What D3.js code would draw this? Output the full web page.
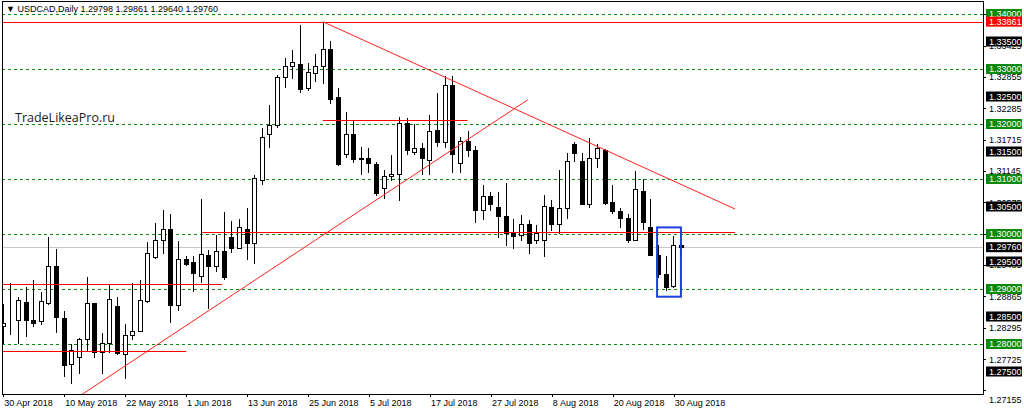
<!DOCTYPE html>
<html lang="en">
<head>
<meta charset="UTF-8">
<title>USDCAD Daily</title>
<script src="https://d3js.org/d3.v7.min.js"></script>
<style>
  body { margin: 0; background: #fff; }
  svg { display: block; font-family: "Liberation Sans", Arial, sans-serif; }
  .axis text { font-size: 9px; fill: #000; }
  .axis line { stroke: #000; shape-rendering: crispEdges; }
  .axis path { display: none; }
  .watermark { font-family: "Open Sans", sans-serif; font-size: 12.5px; fill: #1a1a1a; }
</style>
</head>
<body>
<svg width="1024" height="414"></svg>
<script>
// daily bars, 30 Apr 2018 .. 31 Aug 2018 (weekdays only)
const opens = [
  1.2833, 1.2842, 1.2844, 1.2876, 1.2844, 1.2841, 1.2874, 1.2942, 1.2847, 1.2764,
  1.2776, 1.2809, 1.2875, 1.2786, 1.2801, 1.2870, 1.2782, 1.2816, 1.2824, 1.2878,
  1.2958, 1.2989, 1.3010, 1.2871, 1.2954, 1.2949, 1.2924, 1.2962, 1.2942, 1.2970,
  1.2995, 1.2975, 1.3009, 1.2984, 1.3099, 1.3181, 1.3198, 1.3285, 1.3306, 1.3309,
  1.3265, 1.3292, 1.3306, 1.3336, 1.3249, 1.3145, 1.3182, 1.3136, 1.3139, 1.3127,
  1.3084, 1.3106, 1.3110, 1.3201, 1.3150, 1.3156, 1.3135, 1.3190, 1.3168, 1.3271,
  1.3130, 1.3169, 1.3153, 1.3044, 1.3069, 1.3049, 1.3032, 1.3002, 1.2998, 1.3018,
  1.2990, 1.2990, 1.3050, 1.3018, 1.3048, 1.3163, 1.3132, 1.3055, 1.3138, 1.3153,
  1.3059, 1.3042, 1.3030, 1.2990, 1.3079, 1.3012, 1.2962, 1.2927, 1.2906, 1.29798
];
const highs = [
  1.2874, 1.2912, 1.2887, 1.2906, 1.2918, 1.2897, 1.2996, 1.2974, 1.2862, 1.2801,
  1.2813, 1.2924, 1.2876, 1.2821, 1.2909, 1.2888, 1.2838, 1.2913, 1.2918, 1.2988,
  1.3021, 1.3046, 1.3039, 1.2989, 1.2962, 1.2962, 1.3065, 1.2972, 1.3000, 1.3041,
  1.3026, 1.3029, 1.3050, 1.3109, 1.3194, 1.3236, 1.3291, 1.3322, 1.3336, 1.3382,
  1.3312, 1.3329, 1.33861, 1.3352, 1.3268, 1.3224, 1.3207, 1.3160, 1.3159, 1.3133,
  1.3118, 1.3146, 1.3215, 1.3213, 1.3201, 1.3168, 1.3218, 1.3259, 1.3289, 1.3289,
  1.3178, 1.3190, 1.3162, 1.3091, 1.3078, 1.3078, 1.3095, 1.3030, 1.3036, 1.3027,
  1.3018, 1.3073, 1.3063, 1.3119, 1.3150, 1.3170, 1.3150, 1.3177, 1.3165, 1.3156,
  1.3091, 1.3049, 1.3038, 1.3116, 1.3101, 1.3065, 1.2982, 1.2962, 1.2998, 1.29861
];
const lows = [
  1.2801, 1.2819, 1.2801, 1.2815, 1.2832, 1.2836, 1.2873, 1.2822, 1.2741, 1.2729,
  1.2748, 1.2789, 1.2776, 1.2747, 1.2786, 1.2782, 1.2739, 1.2810, 1.2823, 1.2877,
  1.2957, 1.2966, 1.2840, 1.2862, 1.2944, 1.2897, 1.2913, 1.2865, 1.2932, 1.2918,
  1.2968, 1.2974, 1.2954, 1.2947, 1.3091, 1.3159, 1.3194, 1.3267, 1.3283, 1.3259,
  1.3261, 1.3279, 1.3275, 1.3239, 1.3126, 1.3140, 1.3131, 1.3110, 1.3113, 1.3071,
  1.3065, 1.3099, 1.3062, 1.3146, 1.3146, 1.3110, 1.3110, 1.3160, 1.3158, 1.3113,
  1.3113, 1.3141, 1.3022, 1.3027, 1.3044, 1.2995, 1.2980, 1.2974, 1.2990, 1.2966,
  1.2984, 1.2960, 1.3007, 1.3001, 1.3030, 1.3132, 1.3054, 1.3049, 1.3122, 1.3055,
  1.3039, 1.3012, 1.2986, 1.2989, 1.3010, 1.2961, 1.2922, 1.2899, 1.2904, 1.29640
];
const closes = [
  1.2839, 1.2841, 1.2880, 1.2844, 1.2839, 1.2878, 1.2942, 1.2850, 1.2762, 1.2789,
  1.2809, 1.2875, 1.2786, 1.2802, 1.2882, 1.2783, 1.2816, 1.2824, 1.2880, 1.2965,
  1.2990, 1.3010, 1.2871, 1.2954, 1.2946, 1.2929, 1.2964, 1.2941, 1.2970, 1.2921,
  1.2975, 1.3012, 1.2984, 1.3102, 1.3176, 1.3198, 1.3285, 1.3306, 1.3312, 1.3264,
  1.3295, 1.3306, 1.3336, 1.3245, 1.3127, 1.3182, 1.3136, 1.3139, 1.3130, 1.3075,
  1.3106, 1.3110, 1.3201, 1.3153, 1.3156, 1.3138, 1.3188, 1.3168, 1.3271, 1.3145,
  1.3169, 1.3153, 1.3044, 1.3069, 1.3054, 1.3032, 1.3002, 1.2997, 1.3019, 1.2984,
  1.3001, 1.3051, 1.3019, 1.3048, 1.3133, 1.3148, 1.3055, 1.3138, 1.3156, 1.3056,
  1.3041, 1.3030, 1.2990, 1.3081, 1.3021, 1.2962, 1.2927, 1.2904, 1.2980, 1.29760
];

const tickBars = [0, 8, 16, 24, 32, 40, 48, 56, 64, 72, 80, 88];
const tickLabels = ["30 Apr 2018", "10 May 2018", "22 May 2018", "1 Jun 2018", "13 Jun 2018", "25 Jun 2018",
                    "5 Jul 2018", "17 Jul 2018", "27 Jul 2018", "8 Aug 2018", "20 Aug 2018", "30 Aug 2018"];

const priceTicks = [1.33995, 1.33425, 1.32855, 1.32285, 1.31715, 1.31145, 1.30575,
                    1.30005, 1.29435, 1.28865, 1.28295, 1.27725, 1.27155];
const roundLevels = [1.34, 1.33, 1.32, 1.31, 1.30, 1.29, 1.28];       // green dotted lines
const halfLevels = [1.335, 1.325, 1.315, 1.305, 1.295, 1.285, 1.275];  // black price tags
const highLevel = 1.33861;
const bidPrice = 1.29760;

// drawn objects: [bar, price]
const trendLines = [
  [[42, 1.33861], [96.1, 1.30455]],
  [[6, 1.2668], [68.9, 1.3244]]
];
const levelLines = [
  [26.2, 96.1, 1.3003],
  [-1, 28.8, 1.2909],
  [-1, 24.1, 1.2787],
  [42.0, 61.0, 1.3208]
];
const boxBars = [85.87, 89.0];
const boxPrices = [1.3012, 1.2886];

const title = "\u25BC USDCAD,Daily  1.29798 1.29861 1.29640 1.29760";

const svg = d3.select("svg"),
      plot = {left: 2, right: 983, top: 1, bottom: 394};

const x = d3.scaleLinear().domain([0, 88]).range([2.7, 673.3]);
const y = d3.scaleLinear().domain([1.28, 1.34]).range([344, 14]);
const px = i => Math.round(x(i)) + 0.5;
const py = v => Math.round(y(v)) + 0.5;

svg.append("defs").append("clipPath").attr("id", "clip")
  .append("rect")
  .attr("x", plot.left).attr("y", plot.top)
  .attr("width", plot.right - plot.left).attr("height", plot.bottom - plot.top);

const g = svg.append("g").attr("clip-path", "url(#clip)");

// dotted round-number levels
g.selectAll(".lvl").data(roundLevels).enter().append("line")
  .attr("x1", plot.left).attr("x2", plot.right)
  .attr("y1", py).attr("y2", py)
  .attr("stroke", "#0a8a0a").attr("stroke-dasharray", "3,3")
  .attr("shape-rendering", "crispEdges");

// bid line
g.append("line")
  .attr("x1", plot.left).attr("x2", plot.right)
  .attr("y1", py(bidPrice)).attr("y2", py(bidPrice))
  .attr("stroke", "#c8c8c8").attr("shape-rendering", "crispEdges");

// candles
const bars = d3.range(opens.length);
const candle = g.selectAll(".c").data(bars).enter().append("g");
candle.append("line")
  .attr("x1", px).attr("x2", px)
  .attr("y1", i => py(highs[i])).attr("y2", i => py(lows[i]))
  .attr("stroke", "#000").attr("shape-rendering", "crispEdges");
candle.append("rect")
  .attr("x", i => px(i) - 2)
  .attr("y", i => py(Math.max(opens[i], closes[i])))
  .attr("width", 4)
  .attr("height", i => Math.max(0, py(Math.min(opens[i], closes[i])) - py(Math.max(opens[i], closes[i]))))
  .attr("fill", i => closes[i] >= opens[i] ? "#fff" : "#000")
  .attr("stroke", "#000").attr("shape-rendering", "crispEdges");

// high line
g.append("line")
  .attr("x1", plot.left).attr("x2", plot.right)
  .attr("y1", py(highLevel)).attr("y2", py(highLevel))
  .attr("stroke", "#ff0000").attr("shape-rendering", "crispEdges");

// horizontal levels
g.selectAll(".hl").data(levelLines).enter().append("line")
  .attr("x1", d => x(d[0])).attr("x2", d => x(d[1]))
  .attr("y1", d => py(d[2])).attr("y2", d => py(d[2]))
  .attr("stroke", "#ff0000").attr("stroke-width", 1.2);

// trend lines
g.selectAll(".tl").data(trendLines).enter().append("line")
  .attr("x1", d => x(d[0][0])).attr("y1", d => y(d[0][1]))
  .attr("x2", d => x(d[1][0])).attr("y2", d => y(d[1][1]))
  .attr("stroke", "#ff2020").attr("stroke-width", 1);

// blue rectangle
g.append("rect")
  .attr("x", x(boxBars[0])).attr("y", y(boxPrices[0]))
  .attr("width", x(boxBars[1]) - x(boxBars[0]))
  .attr("height", y(boxPrices[1]) - y(boxPrices[0]))
  .attr("fill", "none").attr("stroke", "#1d3fe0").attr("stroke-width", 2);

// frame
svg.append("rect")
  .attr("x", plot.left + 0.5).attr("y", plot.top + 0.5)
  .attr("width", plot.right - plot.left).attr("height", plot.bottom - plot.top)
  .attr("fill", "none").attr("stroke", "#000").attr("shape-rendering", "crispEdges");

// title and watermark
svg.append("text")
  .attr("x", 6).attr("y", 12)
  .attr("font-size", 9).attr("fill", "#000")
  .text(title);

svg.append("text").attr("class", "watermark")
  .attr("x", 15).attr("y", 122)
  .text("TradeLikeaPro.ru");

// time axis
const xAxis = svg.append("g").attr("class", "axis")
  .attr("transform", `translate(0,${plot.bottom})`)
  .call(d3.axisBottom(x).tickValues(tickBars).tickFormat((d, i) => tickLabels[i]).tickSize(3).tickSizeOuter(0));
xAxis.selectAll(".tick line").attr("transform", "translate(0.5,0)");
xAxis.selectAll("text").attr("text-anchor", "start").attr("x", 1);

// price axis
const yAxis = svg.append("g").attr("class", "axis")
  .attr("transform", `translate(${plot.right},0)`)
  .call(d3.axisRight(y).tickValues(priceTicks).tickFormat(d3.format(".5f")).tickSize(3).tickSizeOuter(0));
yAxis.selectAll("text").filter(d => y(d) > plot.bottom - 8).attr("dy", "1.3em");

// price tags
function tag(v, color) {
  const t = svg.append("g").attr("transform", `translate(${plot.right + 3},${y(v)})`);
  t.append("rect").attr("x", 0).attr("y", -5).attr("width", 36).attr("height", 10).attr("fill", color);
  t.append("text").attr("x", 3).attr("dy", "0.34em")
    .attr("font-size", 9).attr("fill", "#fff")
    .text(d3.format(".5f")(v));
}
halfLevels.forEach(v => tag(v, "#000"));
roundLevels.forEach(v => tag(v, "#0a8a0a"));
tag(highLevel, "#ff0000");
tag(bidPrice, "#000");
</script>
</body>
</html>
